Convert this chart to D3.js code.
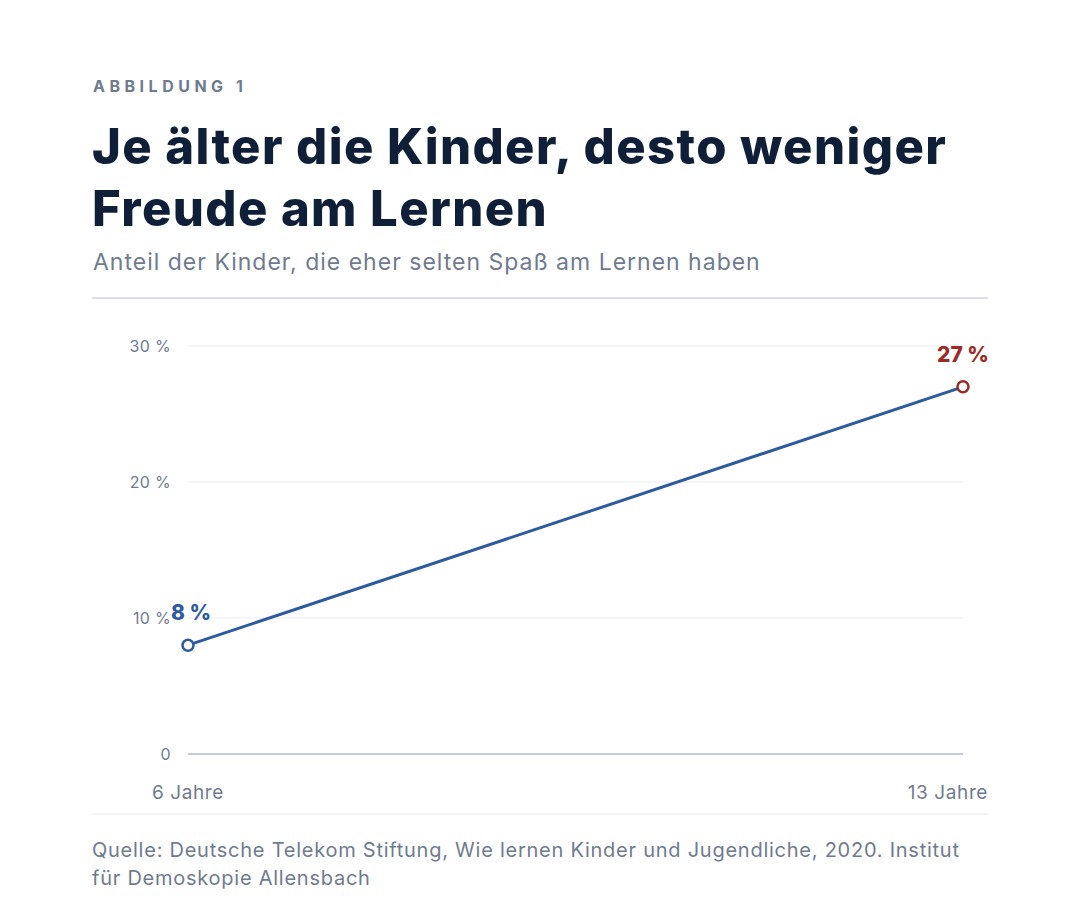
<!DOCTYPE html>
<html>
<head>
<meta charset="utf-8">
<script src="https://cdn.jsdelivr.net/npm/d3@7"></script>
<style>
  body { margin: 0; background: #fff; }
  svg { display: block; }
</style>
</head>
<body>
<div id="chart"></div>
<script>
// Data
var ages = ["6 Jahre", "13 Jahre"];
var shares = [8, 27];
var yTicks = [0, 10, 20, 30];
var labelColors = ["#2d5b9f", "#9c2a27"];

var W = 1080, H = 918;
var font = "Inter, 'Open Sans', sans-serif";
var grey = "#6f7b8f";

var svg = d3
  .select("#chart")
  .append("svg")
  .attr("width", W)
  .attr("height", H);

// Header
svg.append("text")
  .attr("x", 93).attr("y", 92)
  .style("font-family", font)
  .style("font-size", "16px")
  .style("font-weight", 700)
  .style("letter-spacing", "4.5px")
  .style("fill", grey)
  .text("ABBILDUNG 1");

var titleLines = ["Je älter die Kinder, desto weniger", "Freude am Lernen"];
svg.selectAll(".title")
  .data(titleLines)
  .enter()
  .append("text")
  .attr("class", "title")
  .attr("x", 92)
  .attr("y", function (d, i) { return 164 + i * 62; })
  .style("font-family", font)
  .style("font-size", "49px")
  .style("font-weight", 800)
  .style("letter-spacing", "1.4px")
  .style("fill", "#0f1f38")
  .text(function (d) { return d; });

svg.append("text")
  .attr("x", 93).attr("y", 270)
  .style("font-family", font)
  .style("font-size", "23px")
  .style("letter-spacing", "1px")
  .style("fill", grey)
  .text("Anteil der Kinder, die eher selten Spaß am Lernen haben");

svg.append("line")
  .attr("x1", 92).attr("x2", 988)
  .attr("y1", 298).attr("y2", 298)
  .style("stroke", "#b9c0cf")
  .style("stroke-width", 1.2);

// Scales
var x = d3.scalePoint().domain(ages).range([188, 963]);
var y = d3.scaleLinear().domain([0, 30]).range([754, 346]);

// Gridlines
svg.selectAll(".grid")
  .data(yTicks)
  .enter()
  .append("line")
  .attr("x1", 188).attr("x2", 963)
  .attr("y1", function (d) { return y(d); })
  .attr("y2", function (d) { return y(d); })
  .style("stroke", function (d) { return d === 0 ? "#8c9ab0" : "#e9edf2"; })
  .style("stroke-width", 1);

// Y axis labels
svg.selectAll(".ylab")
  .data(yTicks)
  .enter()
  .append("text")
  .attr("x", 171)
  .attr("y", function (d) { return y(d) + 6; })
  .attr("text-anchor", "end")
  .style("font-family", font)
  .style("font-size", "16px")
  .style("letter-spacing", "0.3px")
  .style("fill", grey)
  .text(function (d) { return d === 0 ? "0" : d + " %"; });

// X axis labels
svg.selectAll(".xlab")
  .data(ages)
  .enter()
  .append("text")
  .attr("x", function (d, i) { return i === 0 ? 152 : 988; })
  .attr("y", 799)
  .attr("text-anchor", function (d, i) { return i === 0 ? "start" : "end"; })
  .style("font-family", font)
  .style("font-size", "19px")
  .style("letter-spacing", "0.6px")
  .style("fill", grey)
  .text(function (d) { return d; });

// Line
var line = d3.line()
  .x(function (d, i) { return x(ages[i]); })
  .y(function (d) { return y(d); });

svg.append("path")
  .datum(shares)
  .attr("d", line)
  .style("fill", "none")
  .style("stroke", "#2d5b9f")
  .style("stroke-width", 3);

svg.selectAll(".dot")
  .data(shares)
  .enter()
  .append("circle")
  .attr("cx", function (d, i) { return x(ages[i]); })
  .attr("cy", function (d) { return y(d); })
  .attr("r", 5.5)
  .style("fill", "#fff")
  .style("stroke", function (d, i) { return labelColors[i]; })
  .style("stroke-width", 2.5);

svg.selectAll(".vlab")
  .data(shares)
  .enter()
  .append("text")
  .attr("x", function (d, i) { return x(ages[i]) + (i === 0 ? 3 : 0); })
  .attr("y", function (d) { return y(d) - 25; })
  .attr("text-anchor", "middle")
  .style("font-family", font)
  .style("font-size", "21px")
  .style("font-weight", 800)
  .style("fill", function (d, i) { return labelColors[i]; })
  .text(function (d) { return d + " %"; });

// Footer
svg.append("line")
  .attr("x1", 92).attr("x2", 988)
  .attr("y1", 814).attr("y2", 814)
  .style("stroke", "#e6e9ee")
  .style("stroke-width", 1);

var sourceLines = [
  "Quelle: Deutsche Telekom Stiftung, Wie lernen Kinder und Jugendliche, 2020. Institut",
  "für Demoskopie Allensbach"
];
svg.selectAll(".src")
  .data(sourceLines)
  .enter()
  .append("text")
  .attr("x", 92)
  .attr("y", function (d, i) { return 857 + i * 28; })
  .style("font-family", font)
  .style("font-size", "20px")
  .style("letter-spacing", "0.75px")
  .style("fill", grey)
  .text(function (d) { return d; });
</script>
</body>
</html>
